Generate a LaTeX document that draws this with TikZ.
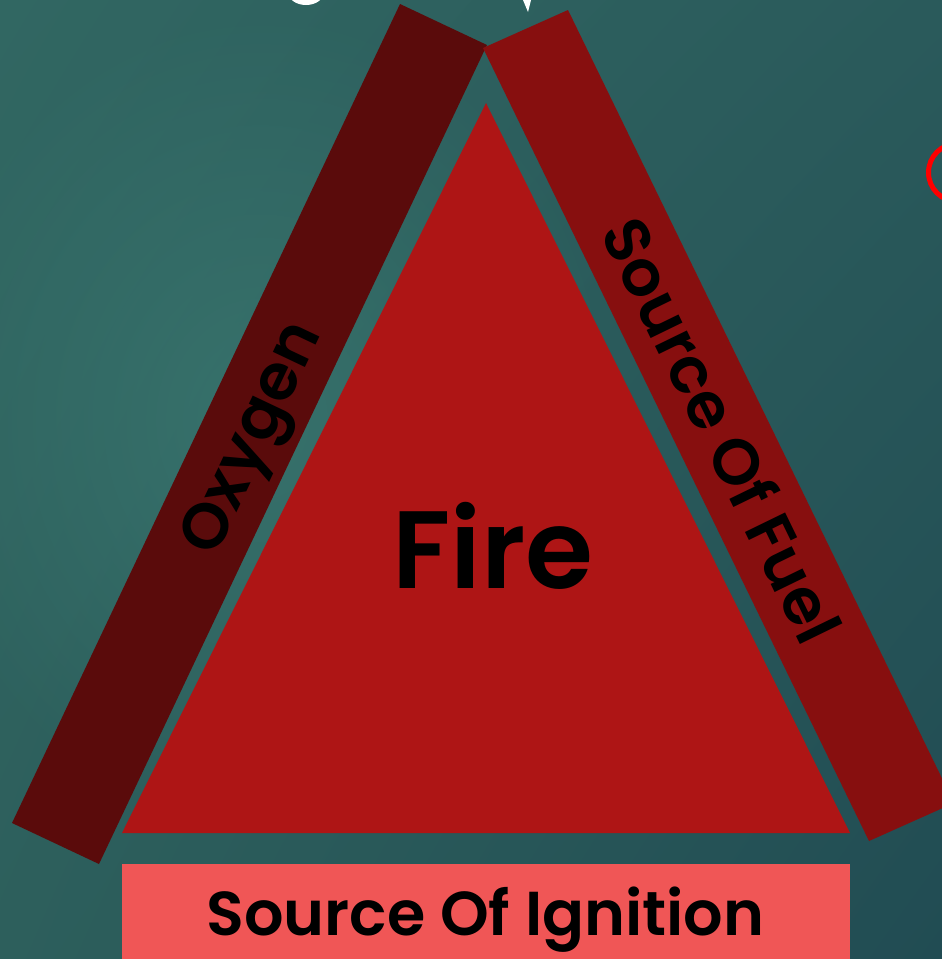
\documentclass[tikz,border=0pt]{standalone}
\usepackage{fontspec}
\setmainfont{Poppins}[BoldFont={Poppins SemiBold}]
\usetikzlibrary{fadings,shadings}
\tikzfading[name=softspot, inner color=transparent!0, outer color=transparent!100]
\definecolor{oxy}{HTML}{5A0B0B}
\definecolor{fuelc}{HTML}{870F0F}
\definecolor{firec}{HTML}{AE1515}
\definecolor{ignc}{HTML}{F05656}
\definecolor{bgUL}{HTML}{316762}
\definecolor{bgUR}{HTML}{2A5A5B}
\definecolor{bgLL}{HTML}{2D5F5C}
\definecolor{bgLR}{HTML}{214C53}
\definecolor{bgLight}{HTML}{3C7A72}
\tikzset{
  lbl/.style={font=\fontsize{64}{64}\selectfont\bfseries, text=black, inner sep=0pt, text height=44.6pt, text depth=0pt},
  ignl/.style={font=\fontsize{62}{62}\selectfont\bfseries, text=black, inner sep=0pt, text height=43.2pt, text depth=0pt},
  bigl/.style={font=\fontsize{110}{110}\selectfont\bfseries, text=black, inner sep=0pt, text height=76.7pt, text depth=0pt}
}
\begin{document}
\begin{tikzpicture}[x=1pt,y=-1pt]
\useasboundingbox (0,0) rectangle (942,959);
\clip (0,0) rectangle (942,959);
% background
\shade[upper left=bgUL, upper right=bgUR, lower left=bgLL, lower right=bgLR] (0,0) rectangle (942,959);
\fill[bgLight, fill opacity=0.7, path fading=softspot] (260,420) ellipse [x radius=360, y radius=420];
% partial title glyphs at top
\fill[white] (306,-8) ellipse [x radius=18, y radius=13];
\fill[white] (523,0) -- (531,0) -- (528,12) -- cycle;
% partial red circle at right
\draw[red, line width=5pt] (957.5,172.5) circle [radius=29];
% bars
\coordinate (oA) at (400,4);
\coordinate (oB) at (487,45);
\coordinate (oC) at (99,864);
\coordinate (oD) at (12,823);
\fill[oxy] (oA) -- (oB) -- (oC) -- (oD) -- cycle;
\coordinate (fA) at (483,48);
\coordinate (fB) at (568,10);
\coordinate (fC) at (954,803);
\coordinate (fD) at (869,841);
\fill[fuelc] (fA) -- (fB) -- (fC) -- (fD) -- cycle;
% triangle
\coordinate (tA) at (486,103);
\coordinate (tB) at (850,833);
\coordinate (tC) at (122,833);
\fill[firec] (tA) -- (tB) -- (tC) -- cycle;
% ignition bar
\coordinate (iA) at (122,864);
\coordinate (iB) at (850,965);
\fill[ignc] (iA) rectangle (iB);
% labels
\node[lbl, rotate=64.65] (oxygen) at (248.3,436.5) {Oxygen};
\node[lbl, rotate=-64.04] (fuel) at (721,430.5) {Source Of Fuel};
\node[bigl] (fire) at (493,550.5) {Fire};
\node[ignl] (ign) at (485.5,913.5) {Source Of Ignition};
\end{tikzpicture}
\end{document}
